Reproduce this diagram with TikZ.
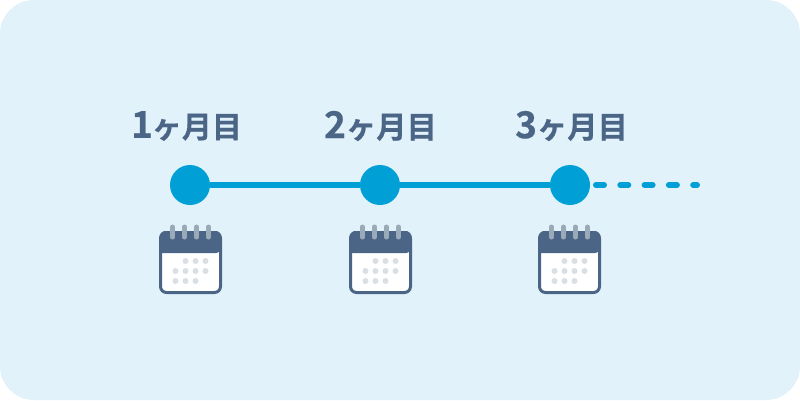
\documentclass[tikz,border=0pt]{standalone}
\usepackage{fontspec}
\newfontfamily\cjk{Noto Sans CJK JP}[BoldFont={Noto Sans CJK JP Bold},BoldFeatures={FakeBold=0.6}]
\definecolor{bgc}{HTML}{E2F2FA}
\definecolor{bluec}{HTML}{009FD6}
\definecolor{navy}{HTML}{4A6585}
\definecolor{ringc}{HTML}{9AAAB9}
\definecolor{dotc}{HTML}{DADFE3}
\tikzset{
 dotnode/.style={circle,fill=bluec,minimum size=40pt,inner sep=0pt},
 conn/.style={draw=bluec,line width=6pt},
 monthlabel/.style={text=navy,font=\cjk\bfseries\fontsize{30.3pt}{30pt}\selectfont,inner sep=0pt,anchor=center},
}
\newcommand{\calicon}[2]{%
 \begin{scope}[shift={(#1,#2)}]
  \fill[white,rounded corners=6pt] (-30,-29) rectangle (30,30);
  \fill[navy,rounded corners=6pt] (-31,-9) -- (-31,-31) -- (31,-31) -- (31,-9) [sharp corners] -- cycle;
  \draw[navy,line width=3pt,rounded corners=6pt] (-30,-29.5) rectangle (30,30.5);
  \foreach \x in {-18,-6,6,18}
   \draw[ringc,line width=5pt,line cap=round] (\x,-35) -- (\x,-25);
  \foreach \x/\y in {-5/-1,5/-1,15/-1,-15/9,-5/9,5/9,15/9,-15/19,-5/19,5/19}
   \fill[dotc] (\x,\y) circle (3pt);
 \end{scope}}
\begin{document}
\begin{tikzpicture}[x=1pt,y=-1pt]
\useasboundingbox (0,0) rectangle (800,400);
\fill[bgc,rounded corners=34pt] (0,0) rectangle (800,400);
\node[dotnode] (a) at (190,185) {};
\node[dotnode] (b) at (380,185) {};
\node[dotnode] (c) at (570,185) {};
\coordinate (e) at (697,185);
\draw[conn] (a) -- (b);
\draw[conn] (b) -- (c);
\draw[conn,line cap=round,dash pattern=on 8pt off 16.3pt] (596,185) -- (e);
\node[monthlabel] (la) at (186.5,126) {\fontsize{37pt}{37pt}\selectfont 1\hspace{-1pt}\fontsize{30pt}{30pt}\selectfont ヶ月目};
\node[monthlabel] (lb) at (380.5,126) {\fontsize{37pt}{37pt}\selectfont 2\fontsize{30.3pt}{30pt}\selectfont ヶ月目};
\node[monthlabel] (lc) at (571.5,126) {\fontsize{37pt}{37pt}\selectfont 3\fontsize{30.3pt}{30pt}\selectfont ヶ月目};
\calicon{190.5}{262}
\calicon{380.5}{262}
\calicon{569.5}{262}
\end{tikzpicture}
\end{document}
